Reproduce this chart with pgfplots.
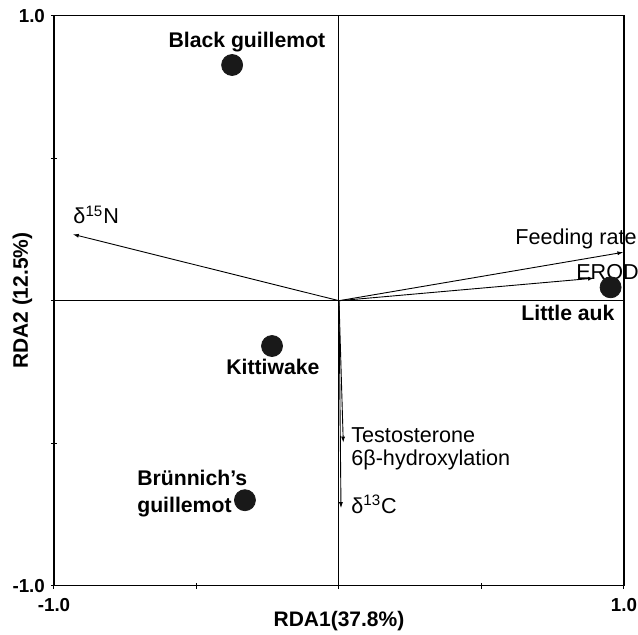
\documentclass[border=0pt]{standalone}
\usepackage{pgfplots}
\pgfplotsset{compat=1.18}
\usepackage{fontspec}
\setmainfont{Liberation Sans}
\usetikzlibrary{arrows.meta}
\begin{document}
\begin{tikzpicture}
\useasboundingbox (-27pt,-24.15pt) rectangle (292pt,292.85pt);
\begin{axis}[
  at={(0,0)}, anchor=south west,
  width=285pt, height=285pt, scale only axis,
  xmin=-1, xmax=1, ymin=-1, ymax=1,
  xtick={-1,-0.5,0,0.5,1}, ytick={-1,-0.5,0,0.5,1},
  xticklabels={-1.0,,,,1.0}, yticklabels={-1.0,,,,1.0},
  xtick pos=bottom, ytick pos=left,
  tick align=center, major tick length=3pt,
  axis line style={line width=0.6pt},
  tick style={line width=0.5pt, black},
  ticklabel style={font=\bfseries\fontsize{9.4}{10}\selectfont},
  xticklabel style={yshift=-1.5pt},
  yticklabel style={xshift=0.5pt},
  xlabel={RDA1(37.8\%)}, ylabel={RDA2 (12.5\%)},
  label style={font=\bfseries\fontsize{10.5}{12}\selectfont},
  xlabel style={at={(axis description cs:0.5,-0.0621)}, anchor=center},
  ylabel style={at={(axis description cs:-0.0553,0.5)}, anchor=center, rotate=0},
  clip=false,
]
% centre lines
\addplot[black, line width=0.5pt] coordinates {(0,-1) (0,1)};
\addplot[black, line width=0.5pt] coordinates {(-1,0) (1,0)};
% environmental arrows
\addplot[black, line width=0.45pt, -{Latex[length=3pt,width=2pt]}] coordinates {(0,0) (-0.934,0.233)};
\addplot[black, line width=0.45pt, -{Latex[length=3pt,width=2pt]}] coordinates {(0,0) (0.998,0.170)};
\addplot[black, line width=0.45pt, -{Latex[length=3pt,width=2pt]}] coordinates {(0,0) (0.895,0.079)};
\addplot[black, line width=0.45pt, -{Latex[length=3pt,width=2pt]}] coordinates {(0,0) (0.015,-0.498)};
\addplot[black, line width=0.45pt, -{Latex[length=3pt,width=2pt]}] coordinates {(0,0) (0.007,-0.728)};
% species
\addplot[only marks, mark=*, mark size=5.25pt, color=black!90] coordinates {
  (-0.375,0.827) (-0.235,-0.159) (-0.33,-0.70) (0.953,0.047)};
% labels
\begin{scope}[every node/.style={inner sep=0pt, font=\fontsize{10.8}{11.2}\selectfont}]
\node[anchor=west] at (axis cs:-0.933,0.301) {δ\textsuperscript{15}N};
\node[anchor=east] at (axis cs:1.046,0.217) {Feeding rate};
\node[anchor=east] at (axis cs:1.053,0.101) {EROD};
\node[anchor=west, align=left] at (axis cs:0.042,-0.52) {Testosterone\\6β-hydroxylation};
\node[anchor=west] at (axis cs:0.042,-0.713) {δ\textsuperscript{13}C};
\end{scope}
\begin{scope}[every node/.style={inner sep=0pt, font=\bfseries\fontsize{10.6}{13.5}\selectfont}]
\node[anchor=center] at (axis cs:-0.323,0.908) {Black guillemot};
\node[anchor=center] at (axis cs:-0.232,-0.231) {Kittiwake};
\node[anchor=west, align=left] at (axis cs:-0.709,-0.675) {Brünnich’s\\guillemot};
\node[anchor=east] at (axis cs:0.968,-0.043) {Little auk};
\end{scope}
\end{axis}
\end{tikzpicture}
\end{document}
